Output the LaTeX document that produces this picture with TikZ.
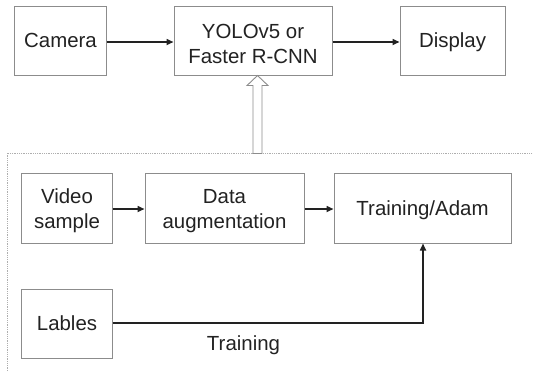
\documentclass[tikz,border=0pt]{standalone}
\usepackage{fontspec}
\setmainfont{Liberation Sans}
\usetikzlibrary{arrows.meta,calc}
\definecolor{boxgray}{HTML}{8C8C8C}
\definecolor{txt}{HTML}{222222}
\newcommand{\toppad}{\rule{0pt}{21bp}}
\begin{document}
\begin{tikzpicture}[x=1bp,y=-1bp,
  lbl/.style={text=txt,font=\fontsize{20.5}{25}\selectfont},
  one/.style={text height=14.7bp,text depth=0bp},
  blk/.style={lbl,draw=boxgray,line width=1bp,fill=white,inner sep=0pt,align=center},
  conn/.style={line width=1.6bp,draw=txt,-{Triangle[length=7bp,width=6bp]}}]
\useasboundingbox (0,0) rectangle (533,371);
% dotted frame
\draw[boxgray!70,densely dotted,line width=0.8bp] (7,371) -- (7,153) -- (533,153);
% top row
\node[blk,one,minimum width=91bp,minimum height=69bp] (cam) at (60.5,40.5) {Camera};
\node[blk,minimum width=158bp,minimum height=69bp] (yolo) at (253,40.5) {\toppad YOLOv5 or\\Faster R-CNN};
\node[blk,one,minimum width=105bp,minimum height=69bp] (disp) at (452.5,40.5) {Display};
% bottom
\node[blk,minimum width=90bp,minimum height=70bp] (video) at (67,208) {\toppad Video\\sample};
\node[blk,minimum width=159bp,minimum height=70bp] (aug) at (224.5,208) {\toppad Data\\augmentation};
\node[blk,one,minimum width=177bp,minimum height=70bp] (train) at (422.5,208) {Training/Adam};
\node[blk,one,minimum width=90bp,minimum height=69bp] (lab) at (67,323.5) {Lables};
% connectors
\draw[conn] (cam.east |- 0,42) -- (yolo.west |- 0,42);
\draw[conn] (yolo.east |- 0,42) -- (disp.west |- 0,42);
\draw[conn] (video.east |- 0,209) -- (aug.west |- 0,209);
\draw[conn] (aug.east |- 0,209) -- (train.west |- 0,209);
\coordinate (bend) at (423,323);
\draw[conn] (lab.east |- bend) -- (bend) -- (bend |- train.south);
\node[lbl,one] (tl) at (243.5,343) {Training};
% hollow arrow
\coordinate (tip) at ($(yolo.south)+(4.5,0)$);
\draw[boxgray,line width=0.9bp,fill=white]
  ($(tip)+(-4.5,78)$) -- ($(tip)+(-4.5,10)$) -- ($(tip)+(-10.5,10)$) -- (tip)
  -- ($(tip)+(10.5,10)$) -- ($(tip)+(4.5,10)$) -- ($(tip)+(4.5,78)$) -- cycle;
\end{tikzpicture}
\end{document}
